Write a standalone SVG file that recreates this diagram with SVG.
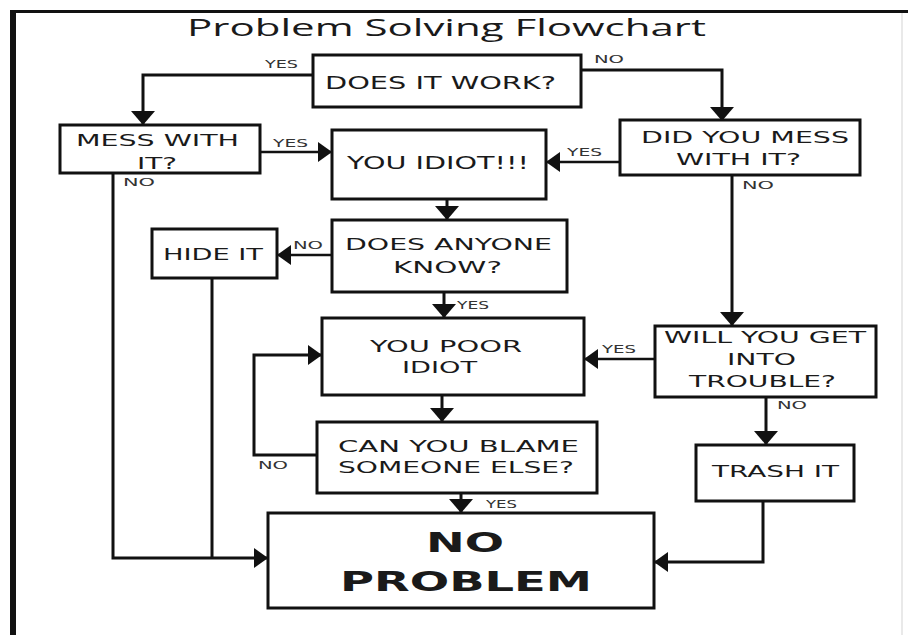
<svg xmlns="http://www.w3.org/2000/svg" width="908" height="635" viewBox="0 0 908 635">
<defs>
<style>
.box{fill:#fff;stroke:#111;stroke-width:3}
.c{fill:none;stroke:#111;stroke-width:3}
.ch{fill:none;stroke:#111;stroke-width:2.5}
.t{font-family:"DejaVu Sans","Liberation Sans",sans-serif;fill:#1a1a1a}
.n{font-size:16px}
.lb{font-family:"DejaVu Sans","Liberation Sans",sans-serif;font-size:11px;fill:#333}
.title{font-family:"Open Sans","Noto Sans",sans-serif;font-size:24px;fill:#1a1a1a}
.big{font-size:27px;font-weight:bold}
</style>
<marker id="ah" viewBox="0 0 14 20" markerWidth="14" markerHeight="20" refX="14" refY="10" orient="auto" markerUnits="userSpaceOnUse">
<path d="M0,0 L14,10 L0,20 z" fill="#111"/>
</marker>
<marker id="av" viewBox="0 0 14 24" markerWidth="14" markerHeight="24" refX="14" refY="12" orient="auto" markerUnits="userSpaceOnUse">
<path d="M0,0 L14,12 L0,24 z" fill="#111"/>
</marker>
</defs>
<rect width="908" height="635" fill="#fff"/>
<g id="frame">
<line x1="10" y1="11.5" x2="908" y2="11.5" stroke="#111" stroke-width="3"/>
<line x1="13" y1="10" x2="13" y2="635" stroke="#111" stroke-width="6"/>
<line x1="902" y1="13" x2="902" y2="635" stroke="#e2e2e2" stroke-width="1.5"/>
</g>
<text class="title" x="187" y="36" textLength="519" lengthAdjust="spacingAndGlyphs">Problem Solving Flowchart</text>
<g id="connectors">
<path class="c" d="M313,75 H143 V125" marker-end="url(#av)"/>
<path class="c" d="M581,70 H722 V121" marker-end="url(#av)"/>
<path class="ch" d="M260,152 H332" marker-end="url(#ah)"/>
<path class="ch" d="M620,162 H546" marker-end="url(#ah)"/>
<path class="c" d="M447,199 V220" marker-end="url(#av)"/>
<path class="ch" d="M332,255 H277" marker-end="url(#ah)"/>
<path class="c" d="M444,292 V318" marker-end="url(#av)"/>
<path class="c" d="M732,175 V326" marker-end="url(#av)"/>
<path class="ch" d="M655,359 H584" marker-end="url(#ah)"/>
<path class="c" d="M442,395 V422" marker-end="url(#av)"/>
<path class="c" d="M317,455 H254 V355 H322" marker-end="url(#ah)"/>
<path class="c" d="M766,397 V445" marker-end="url(#av)"/>
<path class="c" d="M461,493 V513" marker-end="url(#av)"/>
<path class="c" d="M113,173 V558 H268" marker-end="url(#ah)"/>
<path class="c" d="M212,278 V558"/>
<path class="c" d="M763,501 V562 H654" marker-end="url(#ah)"/>
<text class="lb" x="265" y="68" textLength="33" lengthAdjust="spacingAndGlyphs">YES</text>
<text class="lb" x="594" y="63" textLength="30" lengthAdjust="spacingAndGlyphs">NO</text>
<text class="lb" x="273" y="147" textLength="35" lengthAdjust="spacingAndGlyphs">YES</text>
<text class="lb" x="123" y="186" textLength="32" lengthAdjust="spacingAndGlyphs">NO</text>
<text class="lb" x="567" y="156" textLength="35" lengthAdjust="spacingAndGlyphs">YES</text>
<text class="lb" x="742" y="189" textLength="32" lengthAdjust="spacingAndGlyphs">NO</text>
<text class="lb" x="293" y="249" textLength="30" lengthAdjust="spacingAndGlyphs">NO</text>
<text class="lb" x="457" y="309" textLength="32" lengthAdjust="spacingAndGlyphs">YES</text>
<text class="lb" x="602" y="353" textLength="34" lengthAdjust="spacingAndGlyphs">YES</text>
<text class="lb" x="777" y="409" textLength="30" lengthAdjust="spacingAndGlyphs">NO</text>
<text class="lb" x="258" y="469" textLength="30" lengthAdjust="spacingAndGlyphs">NO</text>
<text class="lb" x="486" y="508" textLength="31" lengthAdjust="spacingAndGlyphs">YES</text>
</g>
<g id="n-work">
<rect class="box" x="313" y="55" width="268" height="52"/>
<text class="t" x="325" y="89" font-size="18" textLength="231" lengthAdjust="spacingAndGlyphs">DOES IT WORK?</text>
</g>
<g id="n-mess">
<rect class="box" x="60" y="125" width="200" height="48"/>
<text class="t n" x="76" y="146" textLength="163" lengthAdjust="spacingAndGlyphs">MESS WITH</text>
<text class="t n" x="137" y="169" textLength="40" lengthAdjust="spacingAndGlyphs">IT?</text>
</g>
<g id="n-idiot">
<rect class="box" x="332" y="130" width="214" height="69"/>
<text class="t" x="347" y="169" font-size="17" textLength="182" lengthAdjust="spacingAndGlyphs">YOU IDIOT!!!</text>
</g>
<g id="n-didmess">
<rect class="box" x="620" y="120" width="240" height="55"/>
<text class="t n" x="641" y="143" textLength="208" lengthAdjust="spacingAndGlyphs">DID YOU MESS</text>
<text class="t n" x="676" y="165" textLength="125" lengthAdjust="spacingAndGlyphs">WITH IT?</text>
</g>
<g id="n-hide">
<rect class="box" x="152" y="229" width="125" height="49"/>
<text class="t n" x="163" y="260" textLength="100" lengthAdjust="spacingAndGlyphs">HIDE IT</text>
</g>
<g id="n-anyone">
<rect class="box" x="332" y="220" width="235" height="72"/>
<text class="t n" x="345" y="250" textLength="207" lengthAdjust="spacingAndGlyphs">DOES ANYONE</text>
<text class="t n" x="393" y="273" textLength="109" lengthAdjust="spacingAndGlyphs">KNOW?</text>
</g>
<g id="n-poor">
<rect class="box" x="322" y="318" width="262" height="77"/>
<text class="t n" x="370" y="352" textLength="152" lengthAdjust="spacingAndGlyphs">YOU POOR</text>
<text class="t n" x="402" y="373" textLength="75" lengthAdjust="spacingAndGlyphs">IDIOT</text>
</g>
<g id="n-will">
<rect class="box" x="655" y="326" width="221" height="71"/>
<text class="t n" x="664" y="343" textLength="202" lengthAdjust="spacingAndGlyphs">WILL YOU GET</text>
<text class="t n" x="727" y="365" textLength="69" lengthAdjust="spacingAndGlyphs">INTO</text>
<text class="t n" x="689" y="387" textLength="147" lengthAdjust="spacingAndGlyphs">TROUBLE?</text>
</g>
<g id="n-blame">
<rect class="box" x="317" y="422" width="280" height="71"/>
<text class="t n" x="338" y="452" textLength="241" lengthAdjust="spacingAndGlyphs">CAN YOU BLAME</text>
<text class="t n" x="338" y="473" textLength="236" lengthAdjust="spacingAndGlyphs">SOMEONE ELSE?</text>
</g>
<g id="n-trash">
<rect class="box" x="696" y="445" width="158" height="56"/>
<text class="t n" x="712" y="477" textLength="127" lengthAdjust="spacingAndGlyphs">TRASH IT</text>
</g>
<g id="n-noproblem">
<rect class="box" x="268" y="513" width="386" height="95"/>
<text class="t big" x="426" y="552" textLength="78" lengthAdjust="spacingAndGlyphs">NO</text>
<text class="t big" x="340" y="591" textLength="252" lengthAdjust="spacingAndGlyphs">PROBLEM</text>
</g>
</svg>
